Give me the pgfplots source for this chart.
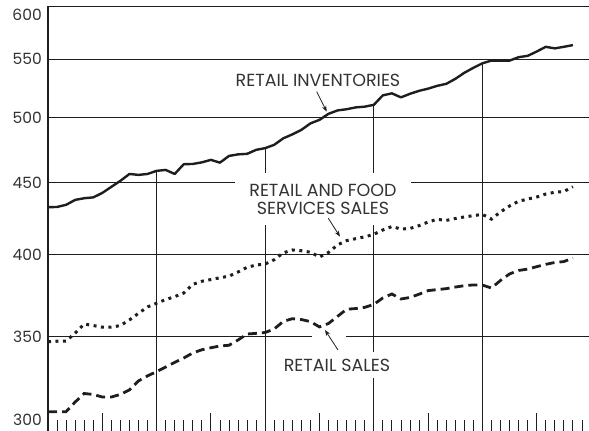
\documentclass[border=0pt]{standalone}
\usepackage{fontspec}
\setmainfont{Poppins}
\usepackage{pgfplots}
\usepackage{pgfplotstable}
\pgfplotsset{compat=1.18}
\usetikzlibrary{arrows.meta}

% month, retail inventories, retail and food services sales, retail sales
\pgfplotstableread{
m  inv   food  sales
0  432.1 347.0 309.6
1  432.3 347.3 309.6
2  433.8 347.4 309.6
3  437.3 352.0 314.5
4  438.5 357.2 318.9
5  439.1 356.3 318.4
6  442.3 355.3 317.1
7  446.7 355.3 317.1
8  451.1 356.3 318.4
9  456.2 359.6 320.8
10 455.5 363.5 325.5
11 456.2 367.3 328.2
12 458.5 369.5 330.5
13 459.2 371.7 333.0
14 456.2 373.5 335.5
15 463.5 375.7 337.9
16 463.7 381.0 340.7
17 464.9 383.0 342.5
18 466.8 384.1 343.6
19 464.7 385.2 344.6
20 469.8 386.2 345.0
21 471.0 388.8 348.0
22 471.4 391.8 351.4
23 474.5 393.3 351.8
24 475.8 393.9 352.3
25 478.4 396.7 354.3
26 483.5 401.1 358.7
27 486.6 403.0 360.3
28 490.2 402.5 359.8
29 495.4 401.5 358.6
30 498.3 398.5 355.5
31 503.2 401.4 357.5
32 506.0 406.4 361.7
33 507.0 409.2 365.9
34 508.5 410.5 366.3
35 509.1 411.7 367.0
36 510.6 413.4 368.8
37 518.6 416.4 372.7
38 520.3 418.7 375.1
39 516.9 417.0 372.1
40 519.9 417.4 373.0
41 522.4 419.3 375.0
42 524.3 421.8 377.2
43 526.7 423.7 377.8
44 528.4 422.9 378.4
45 532.7 424.2 379.4
46 538.0 425.3 380.2
47 542.4 426.2 380.7
48 546.4 427.1 380.6
49 548.9 423.8 378.8
50 548.9 428.8 383.5
51 548.8 433.0 387.6
52 551.9 436.3 389.8
53 553.1 437.9 390.7
54 557.0 439.3 392.2
55 561.3 441.5 393.7
56 559.9 442.8 394.9
57 561.3 443.3 395.5
58 562.9 446.8 397.8
}\sales

\definecolor{ink}{HTML}{1E1E1E}
\definecolor{txt}{HTML}{333333}

\begin{document}
\begin{tikzpicture}
\begin{axis}[
  name=ax,
  scale only axis, width=541bp, height=425bp,
  xmin=0, xmax=59.78,
  ymode=log, ymin=300, ymax=600,
  axis x line*=bottom, axis y line*=left,
  x axis line style={draw=none},
  y axis line style={ink, line width=1.6bp},
  xtick={6,18,30,42,54}, xticklabels={},
  minor xtick={1,...,59},
  xtick align=inside,
  major tick length=18bp, minor tick length=11bp,
  every tick/.style={ink, line width=0.8bp},
  ytick={350,400,450,500,550},
  yticklabels={350,400,450,500,550},
  extra y ticks={600},
  extra y tick labels={600},
  extra y tick style={yticklabel style={yshift=-9bp}},
  ytick style={draw=none},
  ymajorgrids,
  major grid style={ink, line width=0.8bp},
  yticklabel style={font=\fontsize{15.5bp}{18bp}\selectfont, text=txt, inner xsep=0pt, xshift=-6bp},
  clip=true,
]
% partial vertical lines at the year marks, up to the inventories line
\addplot[ycomb, ink, line width=0.8bp, mark=none] coordinates {(12,458.5) (24,475.8) (36,510.6) (48,546.4)};

% label boxes that break the grid lines
\node[fill=white, align=center, inner xsep=14bp, inner ysep=11bp, text=txt,
      font=\fontsize{17.5bp}{18bp}\selectfont]
  at (rel axis cs:0.5083,0.5459) {RETAIL AND FOOD\\SERVICES SALES};
\node[fill=white, inner xsep=5bp, inner ysep=7bp, text=txt,
      font=\fontsize{17.5bp}{18bp}\selectfont]
  at (rel axis cs:0.5342,0.1553) {RETAIL SALES};
\fill[white] (rel axis cs:0.488,0.212) rectangle (rel axis cs:0.551,0.233);
\node[text=txt, font=\fontsize{17.5bp}{18bp}\selectfont, inner sep=1pt]
  at (rel axis cs:0.4991,0.8259) {RETAIL INVENTORIES};

\addplot[ink, line width=2.4bp, line join=round] table[x=m, y=inv] {\sales};
\addplot[ink, line width=3bp, dash pattern=on 3bp off 4.5bp] table[x=m, y=food] {\sales};
\addplot[ink, line width=2.8bp, dash pattern=on 9bp off 5bp] table[x=m, y=sales] {\sales};

\draw[ink, line width=0.8bp, -{Stealth[length=6bp,width=4.5bp]}]
  (rel axis cs:0.4967,0.7984) -- (rel axis cs:0.5152,0.7513);
\draw[ink, line width=0.8bp, -{Stealth[length=6bp,width=4.5bp]}]
  (rel axis cs:0.5181,0.5005) -- (rel axis cs:0.5397,0.4572);
\draw[ink, line width=0.8bp, -{Stealth[length=6bp,width=4.5bp]}]
  (rel axis cs:0.5360,0.1906) -- (rel axis cs:0.5120,0.2376);
\end{axis}
\node[anchor=east, text=txt, font=\fontsize{15.5bp}{18bp}\selectfont, inner xsep=0pt, inner ysep=0pt]
  at ([xshift=-6bp, yshift=11bp]ax.south west) {300};
\pgfresetboundingbox
\path[use as bounding box] ([xshift=-48bp]ax.south west) rectangle ([yshift=6bp]ax.north east);
\end{tikzpicture}
\end{document}
